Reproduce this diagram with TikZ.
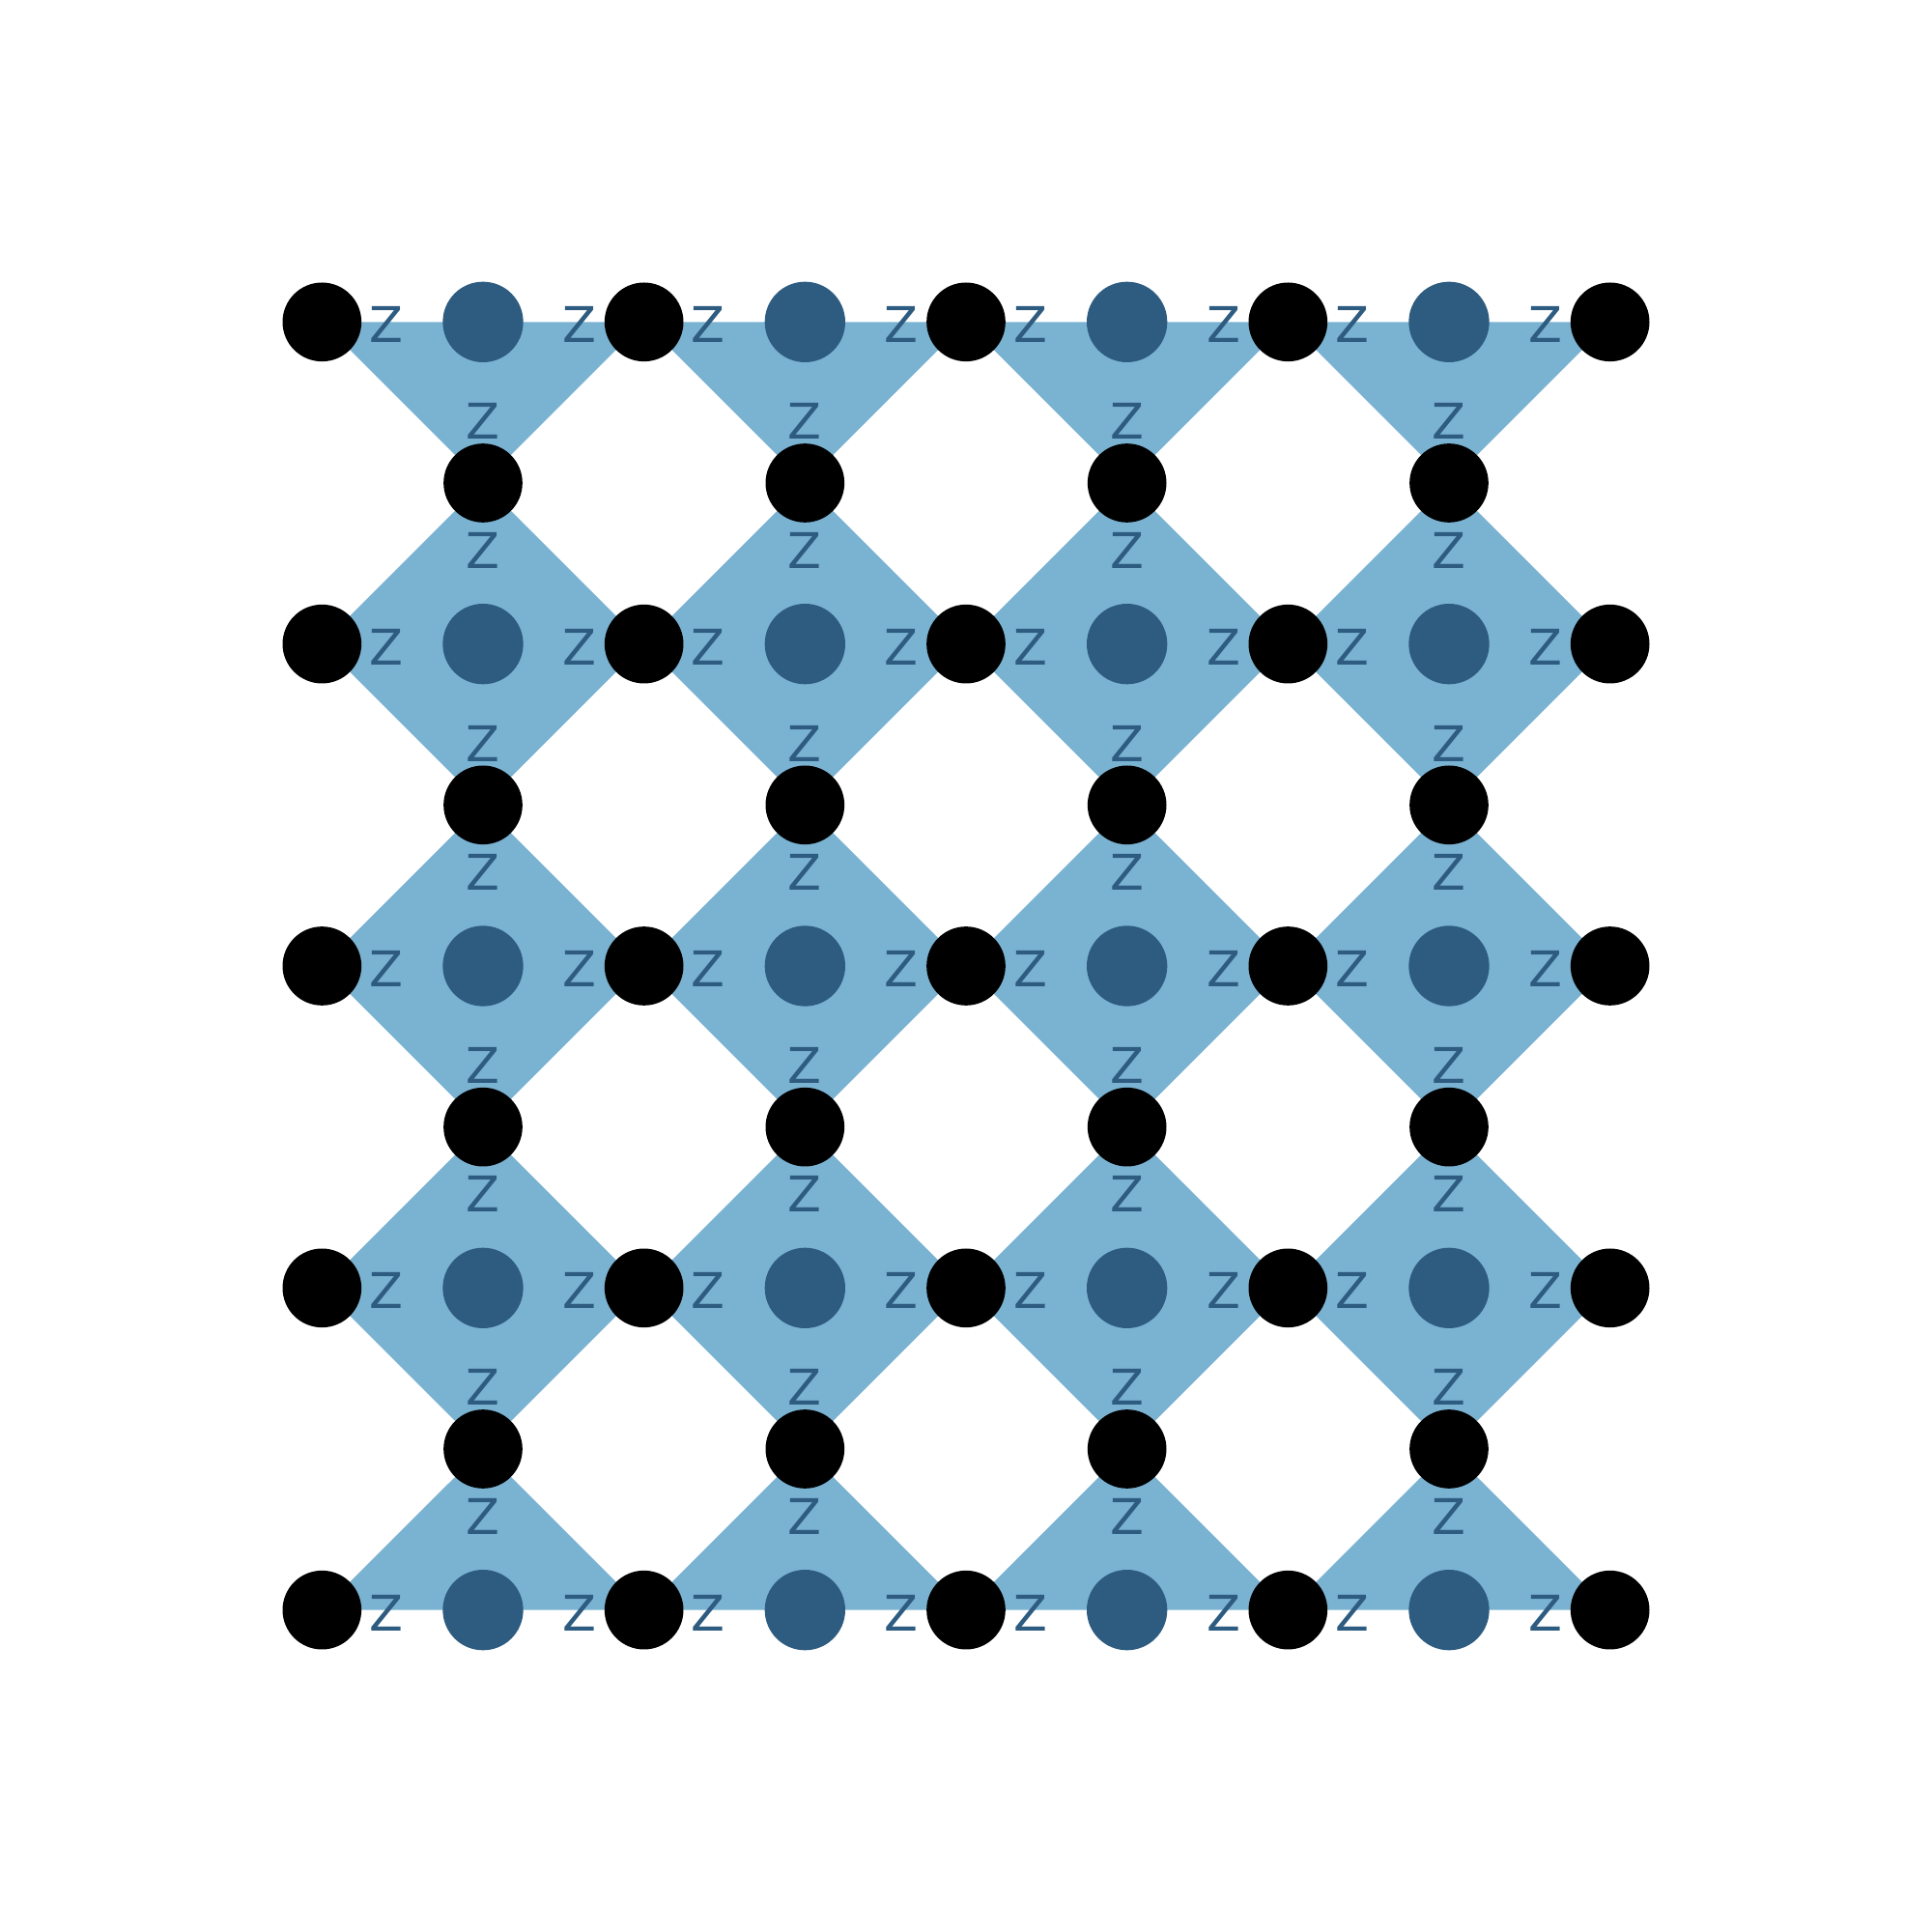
\documentclass[tikz,border=0pt]{standalone}
\usepackage{fontspec}
\usetikzlibrary{backgrounds}
\newfontfamily\labelfont{DejaVu Sans}
\definecolor{cellfill}{HTML}{7AB2D2}
\definecolor{darkblue}{HTML}{2E5C80}

\begin{document}
\begin{tikzpicture}[x=1cm,y=1cm,
  site/.style={circle, fill=black, inner sep=0pt, minimum size=0.49cm},
  hub/.style={circle, fill=darkblue, inner sep=0pt, minimum size=0.5cm},
  zlabel/.style={font=\labelfont\fontsize{8.7}{10}\selectfont, text=darkblue, inner sep=0pt, yshift=-0.5pt}]
\useasboundingbox (0,0) rectangle (12,12);

% corner sites
\foreach \i in {1,...,5}{
  \foreach \j in {1,...,5}{
    \node[site] (k-\i-\j) at (2*\i,2*\j) {};
  }
}

% middle sites
\foreach \i in {1,...,4}{
  \foreach \j in {1,...,4}{
    \node[site] (m-\i-\j) at (2*\i+1,2*\j+1) {};
  }
}

% hubs
\foreach \i in {1,...,4}{
  \foreach \j in {1,...,5}{
    \node[hub] (b-\i-\j) at (2*\i+1,2*\j) {};
  }
}

% cells
\begin{scope}[on background layer]
\foreach \i in {1,...,4}{
  \pgfmathtruncatemacro{\ii}{\i+1}
  \foreach \j in {2,3,4}{
    \pgfmathtruncatemacro{\jj}{\j-1}
    \fill[cellfill] (k-\i-\j.center) -- (m-\i-\j.center) -- (k-\ii-\j.center) -- (m-\i-\jj.center) -- cycle;
  }
  \fill[cellfill] (k-\i-5.center) -- (k-\ii-5.center) -- (m-\i-4.center) -- cycle;
  \fill[cellfill] (k-\i-1.center) -- (m-\i-1.center) -- (k-\ii-1.center) -- cycle;
}
\end{scope}

% labels
\foreach \i in {1,...,4}{
  \pgfmathtruncatemacro{\ii}{\i+1}
  \foreach \j in {1,...,5}{
    \path (b-\i-\j.center) -- node[zlabel, pos=0.6] {Z} (k-\i-\j.center);
    \path (b-\i-\j.center) -- node[zlabel, pos=0.6] {Z} (k-\ii-\j.center);
  }
  \foreach \j in {1,...,4}{
    \pgfmathtruncatemacro{\jj}{\j+1}
    \path (b-\i-\j.center) -- node[zlabel, pos=0.6] {Z} (m-\i-\j.center);
    \path (b-\i-\jj.center) -- node[zlabel, pos=0.6] {Z} (m-\i-\j.center);
  }
}
\end{tikzpicture}
\end{document}
